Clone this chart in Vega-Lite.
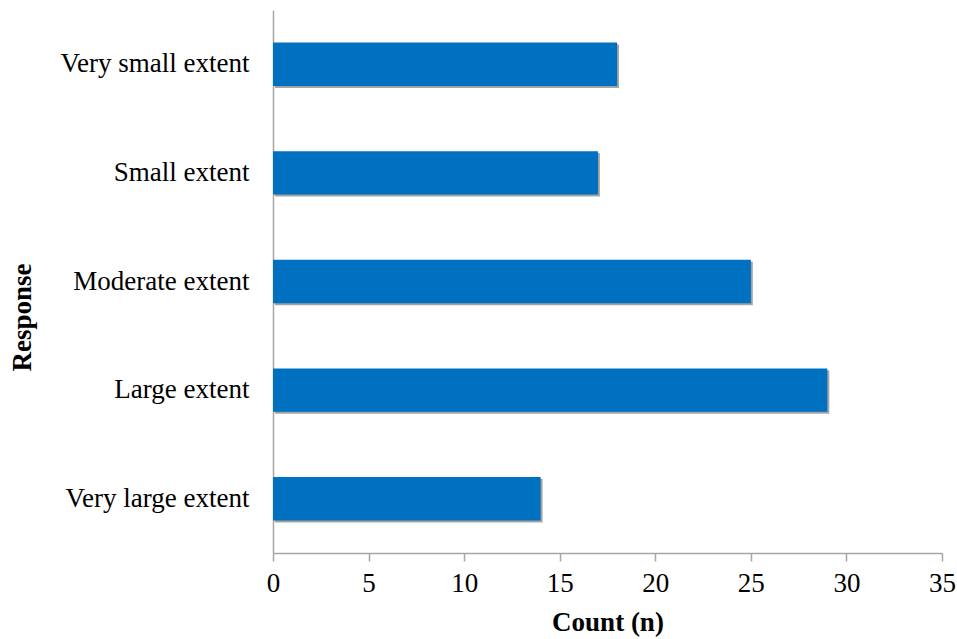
{
  "$schema": "https://vega.github.io/schema/vega-lite/v6.json",
  "width": 669,
  "height": 543,
  "autosize": {"type": "none"},
  "padding": {"left": 273, "top": 10, "right": 15, "bottom": 86},
  "background": "white",
  "config": {
    "view": {"stroke": null},
    "font": "Liberation Serif",
    "axis": {
      "labelFont": "Liberation Serif",
      "titleFont": "Liberation Serif",
      "labelColor": "black",
      "titleColor": "black",
      "labelFontSize": 27,
      "titleFontSize": 27,
      "titleFontWeight": "bold",
      "labelLimit": 0,
      "domainColor": "#a6a6a6",
      "tickColor": "#a6a6a6",
      "domainWidth": 1.5,
      "tickWidth": 1.5,
      "grid": false
    }
  },
  "data": {
    "values": [
      {"response": "Very small extent", "count": 18},
      {"response": "Small extent", "count": 17},
      {"response": "Moderate extent", "count": 25},
      {"response": "Large extent", "count": 29},
      {"response": "Very large extent", "count": 14}
    ]
  },
  "encoding": {
    "y": {
      "field": "response",
      "type": "nominal",
      "sort": null,
      "scale": {"paddingInner": 0.6, "paddingOuter": 0.3},
      "axis": {
        "title": "Response",
        "ticks": false,
        "labelPadding": 24,
        "titleX": -251,
        "titleY": 307,
        "titleAngle": -90,
        "titleAlign": "center",
        "titleBaseline": "middle"
      }
    },
    "x": {
      "field": "count",
      "type": "quantitative",
      "scale": {"domain": [0, 35], "nice": false},
      "axis": {
        "title": "Count (n)",
        "values": [0, 5, 10, 15, 20, 25, 30, 35],
        "tickSize": 8,
        "labelPadding": 9,
        "titlePadding": 13,
        "labelFlush": false
      }
    }
  },
  "layer": [
    {"mark": {"type": "bar", "color": "#000000", "opacity": 0.05, "xOffset": 1, "x2Offset": 9, "yOffset": 1, "y2Offset": 9}},
    {"mark": {"type": "bar", "color": "#000000", "opacity": 0.08, "xOffset": 2, "x2Offset": 7, "yOffset": 2, "y2Offset": 7}},
    {"mark": {"type": "bar", "color": "#000000", "opacity": 0.12, "xOffset": 2, "x2Offset": 5, "yOffset": 2, "y2Offset": 5}},
    {"mark": {"type": "bar", "color": "#000000", "opacity": 0.18, "xOffset": 2, "x2Offset": 3, "yOffset": 2, "y2Offset": 3}},
    {"mark": {"type": "bar", "color": "#0070C0"}}
  ]
}
